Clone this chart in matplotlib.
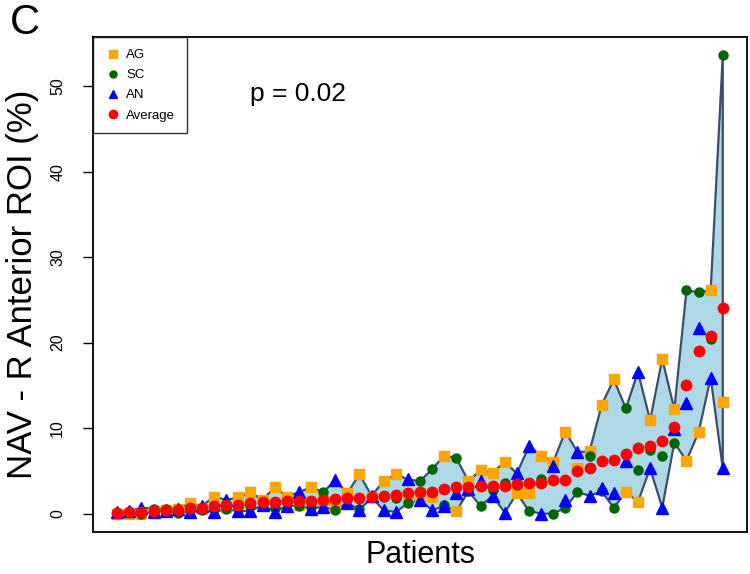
import matplotlib
matplotlib.use("Agg")
import matplotlib.pyplot as plt
from matplotlib.lines import Line2D
import numpy as np

plt.rcParams['font.family'] = ['Liberation Sans', 'DejaVu Sans']

# Values per patient (sorted by average), in %
AG = [0.0, 0.0, 0.0, 0.3, 0.4, 0.6, 1.2, 0.6, 2.0, 0.8,
      1.9, 2.5, 1.6, 3.1, 2.0, 1.0, 3.1, 1.6, 0.8, 2.4,
      4.6, 2.0, 3.8, 4.6, 2.0, 2.1, 1.9, 6.8, 0.3, 3.8,
      5.1, 4.8, 6.05, 2.4, 2.4, 6.8, 6.05, 9.6, 5.3, 7.3,
      12.7, 15.7, 2.5, 1.4, 10.9, 18.1, 12.2, 6.2, 9.5, 26.1, 13.1]
SC = [0.1, 0.2, 0.0, 0.6, 0.6, 0.1, 0.5, 0.4, 0.6, 0.5,
      0.9, 0.9, 1.4, 0.7, 1.4, 0.9, 0.8, 2.5, 0.4, 1.7,
      0.6, 1.9, 1.9, 1.8, 1.2, 3.8, 5.2, 1.0, 6.5, 2.6,
      0.9, 2.8, 3.6, 3.4, 0.3, 4.0, 0.0, 0.7, 2.5, 6.7,
      2.6, 0.7, 12.3, 5.1, 7.5, 6.7, 8.3, 26.1, 25.9, 20.4, 53.6]
AN = [0.2, 0.3, 0.7, 0.2, 0.3, 0.6, 0.2, 0.9, 0.2, 1.6,
      0.3, 0.3, 1.0, 0.2, 0.9, 2.5, 0.6, 0.8, 3.9, 1.3,
      0.4, 2.1, 0.4, 0.2, 4.0, 1.6, 0.4, 0.9, 2.4, 2.9,
      3.8, 2.1, 0.1, 4.7, 7.9, 0.0, 5.6, 1.6, 7.2, 2.1,
      3.0, 2.4, 6.1, 16.6, 5.3, 0.7, 9.9, 12.9, 21.7, 15.9, 5.3]
series_names = ["AG", "SC", "AN", "Average"]
y_ticks = [0, 10, 20, 30, 40, 50]
p_text = "p = 0.02"

ag = np.array(AG); sc = np.array(SC); an = np.array(AN)
avg = (ag + sc + an) / 3.0
x = np.arange(1, len(ag) + 1)
upper = np.maximum.reduce([ag, sc, an])
lower = np.minimum.reduce([ag, sc, an])

fig = plt.figure(figsize=(7.5, 5.74), dpi=100)
ax = fig.add_axes([0.124, 0.0732, 0.872, 0.8623])

px = np.concatenate([x, x[::-1]])
py = np.concatenate([upper, lower[::-1]])
ax.fill(px, py, facecolor='#ADD8E6', edgecolor='#3E4C6E', linewidth=1.6, zorder=1)

ax.plot(x, ag, linestyle='none', marker='s', markersize=7.5, color='#FFA500', zorder=3)
ax.plot(x, sc, linestyle='none', marker='o', markersize=6.5, color='#006400', zorder=3)
ax.plot(x, an, linestyle='none', marker='^', markersize=8, color='#0000FF', zorder=4)
ax.plot(x, avg, linestyle='none', marker='o', markersize=7.5, color='#FF0000', zorder=5)

n = len(x)
xr = (n - 1) * 0.04
ax.set_xlim(1 - xr, n + xr)
ymin, ymax = min(lower.min(), 0), upper.max()
yr = (ymax - ymin) * 0.04
ax.set_ylim(ymin - yr, ymax + yr)

ax.set_xticks([])
ax.set_yticks(y_ticks)
ax.set_yticklabels([str(t) for t in y_ticks], rotation=90, va='center', fontsize=11.5)
ax.tick_params(axis='y', length=7, width=1, direction='out', pad=13)
for s in ax.spines.values():
    s.set_linewidth(1.3)

ax.set_xlabel("Patients", fontsize=22, labelpad=6)
ax.set_ylabel("NAV - R Anterior ROI (%)", fontsize=25)
ax.yaxis.set_label_coords(-0.083, 0.5)

ax.text(0.24, 0.885, p_text, transform=ax.transAxes, fontsize=19, va='center', ha='left')
fig.text(0.013, 0.995, "C", fontsize=30, va='top', ha='left')

handles = [
    Line2D([], [], linestyle='none', marker='s', markersize=6, color='#FFA500'),
    Line2D([], [], linestyle='none', marker='o', markersize=5, color='#006400'),
    Line2D([], [], linestyle='none', marker='^', markersize=6, color='#0000FF'),
    Line2D([], [], linestyle='none', marker='o', markersize=6, color='#FF0000'),
]
leg = ax.legend(handles, series_names, loc='upper left', bbox_to_anchor=(0, 1),
                fontsize=9.5, frameon=True, fancybox=False, borderaxespad=0,
                handletextpad=0.4, handlelength=1.2, labelspacing=0.6,
                borderpad=0.9)
leg.get_frame().set_edgecolor('black')
leg.get_frame().set_linewidth(1.0)

fig.savefig("out.png", dpi=100)
